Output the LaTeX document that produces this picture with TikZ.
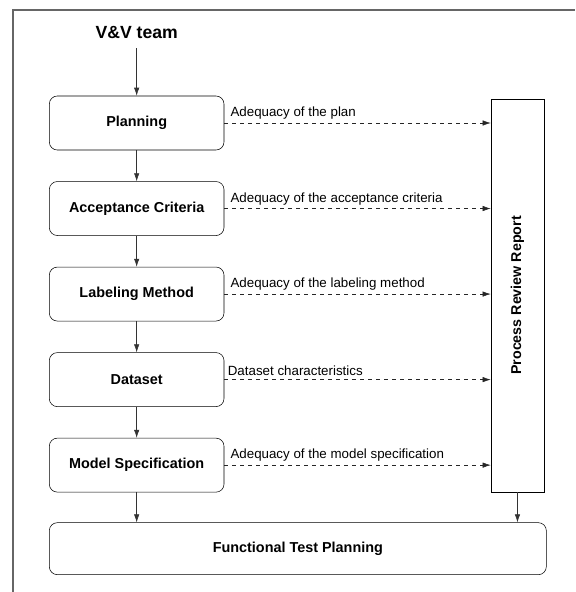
\documentclass[tikz,border=0pt]{standalone}
\usepackage{graphicx}
\usepackage{fontspec}
\setmainfont{Liberation Sans}
\usetikzlibrary{arrows.meta,positioning}

\begin{document}
\begin{tikzpicture}[node distance=23.25pt,>={Latex[length=6pt,width=4pt]},
box/.style={rounded corners=6pt,draw,thin,minimum width=131pt,minimum height=40.5pt,align=center,font=\bfseries\fontsize{10.8}{13}\selectfont},
flow/.style={->,draw=black!80,thin},
feed/.style={->,dashed,draw=black!85,thin},
note/.style={font=\fontsize{10}{12}\selectfont,anchor=south west,inner sep=1.5pt,xshift=3pt,yshift=1pt}]
\useasboundingbox (0,0) rectangle (431.25pt,-444pt);
% outer frame, only top and left edge visible
\draw[black!60,line width=1.1pt] (9.75pt,-444pt) |- (431.25pt,-7.5pt);
\node[font=\bfseries\fontsize{13.2}{15}\selectfont,inner sep=7pt] (team) at (102.5pt,-24.5pt) {V\&V team};
\node[box] (plan) at (102.5pt,-92.25pt) {Planning};
\node[box,below=of plan] (accept) {Acceptance Criteria};
\node[box,below=of accept] (label) {Labeling Method};
\node[box,below=of label] (data) {Dataset};
\node[box,below=of data] (model) {Model Specification};
\node[box,minimum width=372.75pt,minimum height=39pt,below=22.5pt of model.south west,anchor=north west] (ftp) {Functional Test Planning};
\node[draw,thin,minimum width=39.75pt,minimum height=294.75pt,font=\bfseries\fontsize{10.7}{13}\selectfont] (report) at (388.1pt,-221.6pt) {\rotatebox{90}{Process Review Report}};
\draw[flow] (team)--(plan);
\draw[flow] (plan)--(accept);
\draw[flow] (accept)--(label);
\draw[flow] (label)--(data);
\draw[flow] (data)--(model);
\draw[flow] (model)--(model |- ftp.north);
\draw[flow] (report.south)--(report.south |- ftp.north);
\draw[feed] (plan.east)--node[note,pos=0]{Adequacy of the plan}(plan.east -| report.west);
\draw[feed] (accept.east)--node[note,pos=0]{Adequacy of the acceptance criteria}(accept.east -| report.west);
\draw[feed] (label.east)--node[note,pos=0]{Adequacy of the labeling method}(label.east -| report.west);
\draw[feed] (data.east)--node[note,pos=0,xshift=-2pt]{Dataset characteristics}(data.east -| report.west);
\draw[feed] (model.east)--node[note,pos=0]{Adequacy of the model specification}(model.east -| report.west);
\end{tikzpicture}
\end{document}
